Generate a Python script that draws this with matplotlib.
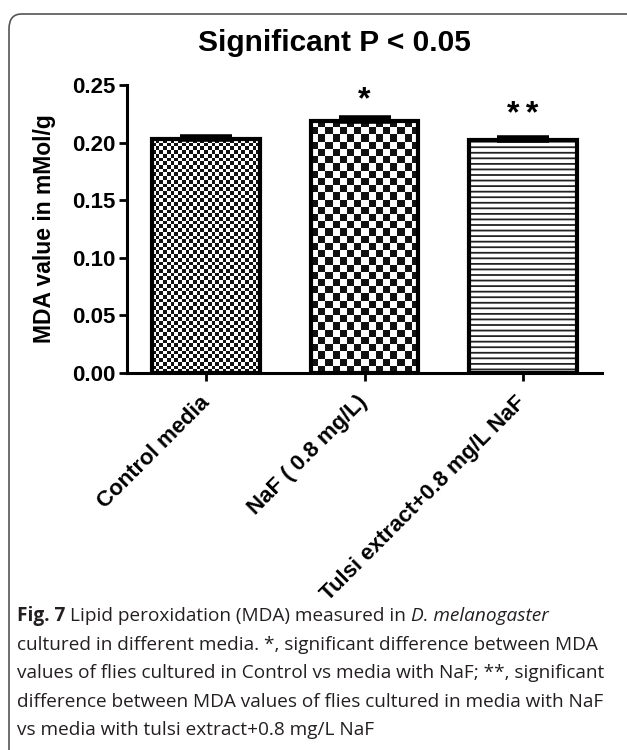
import numpy as np
import matplotlib
matplotlib.use("Agg")
import matplotlib.pyplot as plt
from matplotlib.colors import ListedColormap
from matplotlib.patches import FancyBboxPatch

# ---------------- data ----------------
categories = ["Control media", "NaF ( 0.8 mg/L)", "Tulsi extract+0.8 mg/L NaF"]
mda_values = [0.203, 0.219, 0.202]
mda_errors = [0.002, 0.002, 0.002]
sig_marks = ["", "*", "*\u2009*"]
y_ticks = [0.00, 0.05, 0.10, 0.15, 0.20, 0.25]
title = "Significant P < 0.05"
y_label = "MDA value in mMol/g"
caption_lines = [
    [("Fig. 7", "bold"), ("Lipid peroxidation (MDA) measured in", "normal"), ("D. melanogaster", "italic")],
    [("cultured in different media. *, significant difference between MDA", "normal")],
    [("values of flies cultured in Control vs media with NaF; **, significant", "normal")],
    [("difference between MDA values of flies cultured in media with NaF", "normal")],
    [("vs media with tulsi extract+0.8 mg/L NaF", "normal")],
]

# ---------------- figure ----------------
W, H = 627, 750
fig = plt.figure(figsize=(W / 100, H / 100), dpi=100)
fig.patch.set_facecolor("white")
FONT = "Liberation Sans"
CAP_FONT = "Open Sans"
plt.rcParams["hatch.linewidth"] = 1.3

def fx(px):
    return px / W

def fy(py):
    return 1 - py / H

# frame (rounded box, clipped by figure edges)
frame = FancyBboxPatch((fx(9), fy(775)), fx(660), (775 - 14) / H,
                       boxstyle="round,pad=0,rounding_size=0.02",
                       transform=fig.transFigure, facecolor="none",
                       edgecolor="#555555", linewidth=1.2)
fig.patches.append(frame)

ax = fig.add_axes([fx(127), fy(373), fx(602 - 127), (373 - 85) / H])
x = np.arange(len(categories))
ax.set_xlim(-0.5, 2.5)
ax.set_ylim(0, 0.25)

bars = ax.bar(x, mda_values, width=0.68, facecolor="none", edgecolor="black",
              linewidth=3, zorder=3)

# fills
fig.canvas.draw()
pattern_cells = [3.7, 7.3, None]
cmap = ListedColormap(["white", "#111111"])
for b, cell in zip(bars, pattern_cells):
    x0, y0, w, h = b.get_x(), b.get_y(), b.get_width(), b.get_height()
    if cell is None:
        ax.bar(b.get_x() + w / 2, h, width=w, facecolor="white",
               edgecolor="#222222", hatch="---", linewidth=0, zorder=1)
        continue
    p0 = ax.transData.transform((x0, y0))
    p1 = ax.transData.transform((x0 + w, y0 + h))
    nx = max(1, int(round((p1[0] - p0[0]) / cell)))
    ny = max(1, int(round((p1[1] - p0[1]) / cell)))
    arr = np.add.outer(np.arange(ny), np.arange(nx)) % 2
    im = ax.imshow(arr, cmap=cmap, extent=(x0, x0 + w, y0, y0 + h),
                   interpolation="nearest", aspect="auto", origin="lower",
                   zorder=1)
    im.set_clip_path(b)

ax.set_xlim(-0.5, 2.5)
ax.set_ylim(0, 0.25)

ax.errorbar(x, mda_values, yerr=[np.zeros(len(mda_values)), mda_errors],
            fmt="none", ecolor="black", elinewidth=3, capsize=19,
            capthick=4, zorder=4)

# significance marks
sig_offsets = [0, 7, 11]
for i, (m, v, e) in enumerate(zip(sig_marks, mda_values, mda_errors)):
    if m:
        ax.annotate(m, xy=(i, v + e), xytext=(0, sig_offsets[i]),
                    textcoords="offset points", ha="center", va="baseline",
                    fontsize=23, fontweight="bold",
                    family=[FONT, "DejaVu Sans"])

for s in ["top", "right"]:
    ax.spines[s].set_visible(False)
for s in ["left", "bottom"]:
    ax.spines[s].set_linewidth(2.2)

ax.set_yticks(y_ticks)
ax.set_yticklabels([f"{t:.2f}" for t in y_ticks], fontsize=16,
                   fontweight="bold", family=FONT)
ax.tick_params(axis="y", length=6, width=2, pad=2)
ax.set_xticks(x)
ax.set_xticklabels(categories, rotation=45, ha="right", va="center",
                   rotation_mode="anchor", fontsize=16, fontweight="bold",
                   family=FONT)
ax.tick_params(axis="x", length=6, width=2, pad=13)

# title and y-label
fig.text(fx(334), fy(51), title, ha="center", va="baseline", fontsize=21.5,
         fontweight="bold", family=FONT)
fig.text(fx(45), fy(229), y_label, ha="center", va="center", rotation=90,
         fontsize=16.5, fontweight="bold", family=FONT)

# caption
renderer = fig.canvas.get_renderer()
def measure(txt, fs, style="normal"):
    kw = {}
    if style == "bold":
        kw["fontweight"] = "bold"
    if style == "italic":
        kw["fontstyle"] = "italic"
    t = fig.text(0, 0, txt, fontsize=fs, family=CAP_FONT, **kw)
    wpx = t.get_window_extent(renderer).width
    t.remove()
    return wpx

ref_w = measure(caption_lines[2][0][0], 10)
cap_fs = 10 * 591 / ref_w
space_w = measure("a a", cap_fs) - measure("aa", cap_fs)

base0 = 621
for k, line in enumerate(caption_lines):
    xp = 17
    yp = base0 + 28.6 * k
    for j, (txt, style) in enumerate(line):
        kw = {}
        if style == "bold":
            kw["fontweight"] = "bold"
        if style == "italic":
            kw["fontstyle"] = "italic"
        t = fig.text(fx(xp), fy(yp), txt, fontsize=cap_fs, family=CAP_FONT,
                     color="#231f20", ha="left", va="baseline", **kw)
        xp += t.get_window_extent(renderer).width + space_w

fig.savefig("out.png", dpi=100)
